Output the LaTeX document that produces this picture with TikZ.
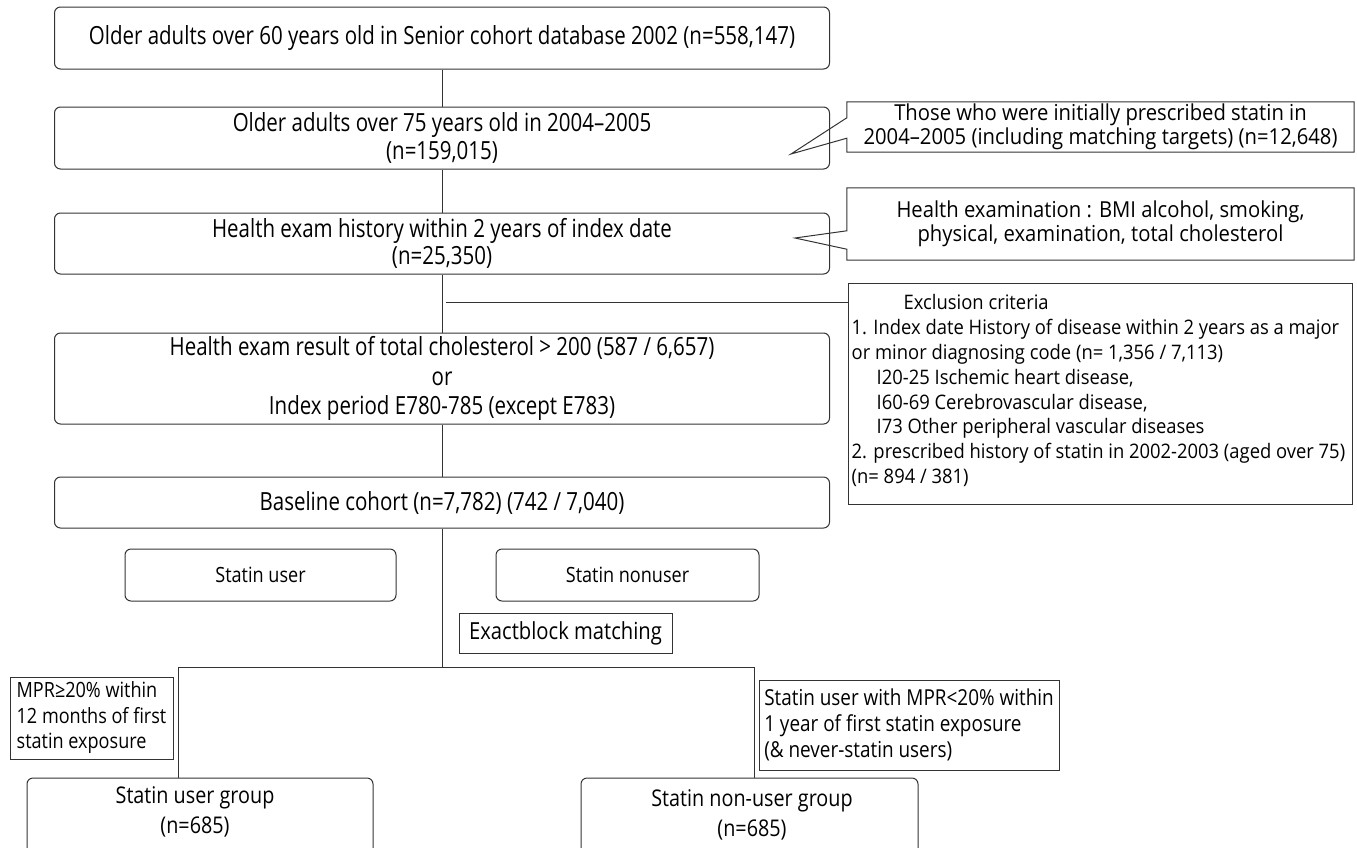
\documentclass[tikz,border=0pt]{standalone}
\usepackage{fontspec}
\setmainfont{Open Sans}
\newfontfamily\boxfont{Open Sans}[FakeStretch=0.82]
\newfontfamily\notefont{Open Sans}[FakeStretch=0.92]
\newfontfamily\condfont{Open Sans}[FakeStretch=0.86]
\usetikzlibrary{calc}
\definecolor{linegray}{HTML}{333333}
\begin{document}
\begin{tikzpicture}[x=1pt,y=-1pt,
    rbox/.style={draw=linegray, rounded corners=6pt, line width=1pt, inner sep=0pt, align=center},
    sbox/.style={draw=linegray, line width=1pt, inner sep=0pt},
    mtxt/.style={font=\boxfont\fontsize{25}{27.5}\selectfont},
    ctxt/.style={align=center, font=\condfont\fontsize{23}{29}\selectfont},
    notebox/.style={align=center, inner sep=0pt, font=\notefont\fontsize{22}{23.5}\selectfont}]
    \useasboundingbox (0,0) rectangle (1357,847);
    \clip (0,0) rectangle (1357,847);
    % main column
    \node[rbox, mtxt, minimum width=775, minimum height=62] (b1) at (442,38)
        {Older adults over 60 years old in Senior cohort database 2002 (n=558,147)};
    \node[rbox, mtxt, minimum width=775, minimum height=62] (b2) at (442,138)
        {Older adults over 75 years old in 2004–2005\\(n=159,015)};
    \node[rbox, mtxt, minimum width=775, minimum height=61] (b3) at (442,243.5)
        {Health exam history within 2 years of index date\\(n=25,350)};
    \node[rbox, mtxt, minimum width=775, minimum height=91, font=\boxfont\fontsize{25}{29.5}\selectfont] (b4) at (442,378.5)
        {Health exam result of total cholesterol > 200 (587 / 6,657)\\or\\Index period E780-785 (except E783)};
    \node[rbox, mtxt, minimum width=775, minimum height=51] (b5) at (442,502.5)
        {Baseline cohort (n=7,782) (742 / 7,040)};
    % side notes
    \node[notebox, minimum width=507, minimum height=50] (c1) at (1100.5,127)
        {Those who were initially prescribed statin in\\2004–2005 (including matching targets) (n=12,648)};
    \node[notebox, minimum width=507, minimum height=72] (c2) at (1100.5,224)
        {Health examination : BMI alcohol, smoking,\\physical, examination, total cholesterol};
    \coordinate (tip1) at (791,154);
    \coordinate (tip2) at (795,238);
    \draw[linegray, line width=1pt] (c1.north west) -- (c1.north east) -- (c1.south east) -- (c1.south west)
        -- ($(c1.south west)+(0,-14)$) -- (tip1) -- ($(c1.north west)+(0,16)$) -- cycle;
    \draw[linegray, line width=1pt] (c2.north west) -- (c2.north east) -- (c2.south east) -- (c2.south west)
        -- ($(c2.south west)+(0,-11)$) -- (tip2) -- ($(c2.north west)+(0,43)$) -- cycle;
    \node[sbox, minimum width=504, minimum height=221] (excl) at (1100,393.5) {};
    \node[anchor=north west, align=left, inner xsep=4pt, inner ysep=12pt, font=\notefont\fontsize{20}{24.8}\selectfont] (exclt) at (excl.north west)
        {\hspace*{52pt}Exclusion criteria\\
        1. Index date History of disease within 2 years as a major\\
        or minor diagnosing code (n= 1,356 / 7,113)\\
        \hspace*{25pt}I20-25 Ischemic heart disease,\\
        \hspace*{25pt}I60-69 Cerebrovascular disease,\\
        \hspace*{25pt}I73 Other peripheral vascular diseases\\
        2. prescribed history of statin in 2002-2003 (aged over 75)\\
        (n= 894 / 381)};
    % groups
    \node[rbox, minimum width=271, minimum height=52, ctxt, font=\condfont\fontsize{21}{25}\selectfont] (su) at (260.5,575) {Statin user};
    \node[rbox, minimum width=263, minimum height=52, ctxt, font=\condfont\fontsize{21}{25}\selectfont] (snu) at (627.5,575) {Statin nonuser};
    \node[sbox, minimum width=213, minimum height=40, ctxt, font=\condfont\fontsize{23.5}{25}\selectfont] (exact) at (565.5,633) {Exactblock matching};
    \node[sbox, minimum width=163, minimum height=82, ctxt, align=left, inner xsep=3pt, font=\condfont\fontsize{21}{25.5}\selectfont] (mpr1) at (91.5,718)
        {MPR≥20\% within\\12 months of first\\statin exposure};
    \node[sbox, minimum width=300, minimum height=90, ctxt, align=left, inner xsep=3pt, font=\condfont\fontsize{22}{26}\selectfont] (mpr2) at (909,725)
        {Statin user with MPR<20\% within\\1 year of first statin exposure\\(\& never-statin users)};
    \node[rbox, minimum width=346, minimum height=100] (g1) at (200,828) {};
    \node[ctxt, font=\condfont\fontsize{23}{30}\selectfont] (g1t) at (195,812) {Statin user group\\(n=685)};
    \node[rbox, minimum width=337, minimum height=100] (g2) at (749.5,828) {};
    \node[ctxt, font=\condfont\fontsize{23}{30}\selectfont] (g2t) at (752,815) {Statin non-user group\\(n=685)};
    % connectors
    \coordinate (stub) at (446,302);
    \coordinate (split) at (442,667);
    \coordinate (sl) at (178,667);
    \coordinate (sr) at (754,667);
    \begin{scope}[draw=linegray, line width=1pt]
    \draw (b1) -- (b2);
    \draw (b2) -- (b3);
    \draw (b3) -- (b4);
    \draw (b4) -- (b5);
    \draw (b5) -- (split);
    \draw (stub) -- (stub -| excl.west);
    \draw (sl) -- (sr);
    \draw (sl) -- (sl |- g1.north);
    \draw (sr) -- (sr |- g2.north);
    \end{scope}
\end{tikzpicture}
\end{document}
